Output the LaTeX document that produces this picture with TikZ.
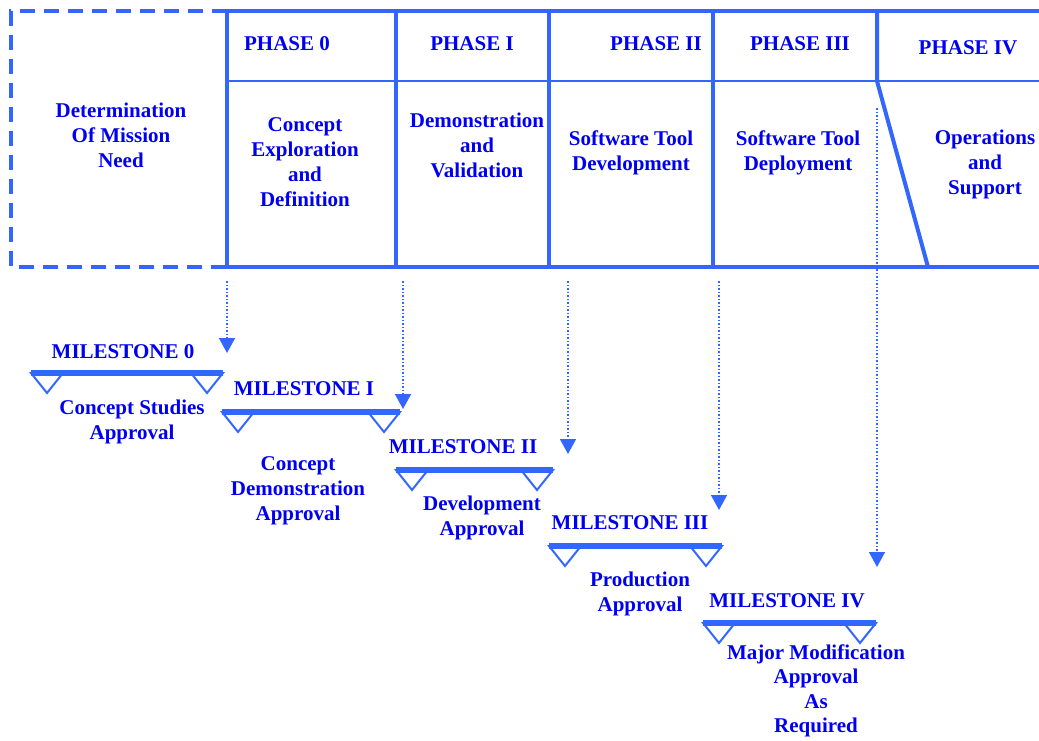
\documentclass[tikz,border=0pt]{standalone}
\usepackage{fontspec}
\setmainfont{Liberation Serif}
\usetikzlibrary{arrows.meta}
\definecolor{ln}{RGB}{51,102,255}
\definecolor{tx}{RGB}{0,0,240}
\newcommand\mstone[4]{% #1 name, #2 left x, #3 right x, #4 y
  \draw[tri] (#2,#4) -- ({#2+16},{#4+20}) -- ({#2+32},#4) -- cycle;
  \draw[tri] ({#3-32},#4) -- ({#3-16},{#4+20}) -- (#3,#4) -- cycle;
  \draw[bar] (#2,#4) -- (#3,#4);
  \coordinate (#1) at ({(#2+#3)/2},#4);
}
\begin{document}
\begin{tikzpicture}[x=1pt,y=-1pt,
  lbl/.style={font=\bfseries\fontsize{21}{25}\selectfont, text=tx, align=center, inner sep=0pt, yshift=-2pt},
  frame/.style={draw=ln, line width=4pt},
  divider/.style={draw=ln, line width=2pt},
  dashframe/.style={draw=ln, line width=4pt, dash pattern=on 15pt off 9pt},
  bar/.style={draw=ln, line width=6pt},
  tri/.style={draw=ln, line width=2pt, fill=white},
  dotarrow/.style={draw=ln, line width=1.5pt, dotted, -{Triangle[width=16pt,length=15pt]}}]
\useasboundingbox (0,0) rectangle (1039,740);

% dashed box
\draw[dashframe] (227,11) -- (11,11) -- (11,267) -- (227,267);
% table frame
\draw[frame] (227,11) -- (1045,11);
\draw[frame] (227,267) -- (1045,267);
\draw[divider] (227,81) -- (1045,81);
\draw[frame] (227,9) -- (227,269);
\draw[frame] (396,9) -- (396,269);
\draw[frame] (549,9) -- (549,269);
\draw[frame] (713,9) -- (713,269);
\draw[frame] (877,9) -- (877,81) -- (928,267);

% texts in table
\node[lbl] (need) at (121,133) {Determination\\Of Mission\\Need};
\node[lbl] (p0) at (287,42) {PHASE 0};
\node[lbl] (p1) at (472,42) {PHASE I};
\node[lbl] (p2) at (656,42) {PHASE II};
\node[lbl] (p3) at (800,42) {PHASE III};
\node[lbl] (p4) at (968,46) {PHASE IV};
\node[lbl] (c0) at (305,160) {Concept\\Exploration\\and\\Definition};
\node[lbl] (c1) at (477,143) {Demonstration\\and\\Validation};
\node[lbl] (c2) at (631,151) {Software Tool\\Development};
\node[lbl] (c3) at (798,151) {Software Tool\\Deployment};
\node[lbl] (c4) at (985,162) {Operations\\and\\Support};

% milestones
\mstone{m0}{31}{223}{373}
\mstone{m1}{222}{400}{412}
\mstone{m2}{396}{553}{470}
\mstone{m3}{549}{722}{546}
\mstone{m4}{703}{876}{623}

\node[lbl] (m0t) at (123,350) {MILESTONE 0};
\node[lbl] (m0b) at (132,420) {Concept Studies\\Approval};
\node[lbl] (m1t) at (304,387) {MILESTONE I};
\node[lbl] (m1b) at (298,489) {Concept\\Demonstration\\Approval};
\node[lbl] (m2t) at (463,445) {MILESTONE II};
\node[lbl] (m2b) at (482,516) {Development\\Approval};
\node[lbl] (m3t) at (630,521) {MILESTONE III};
\node[lbl] (m3b) at (640,592) {Production\\Approval};
\node[lbl] (m4t) at (787,599) {MILESTONE IV};
\node[lbl, font=\bfseries\fontsize{21}{24.5}\selectfont] (m4b) at (816,689) {Major Modification\\Approval\\As\\Required};

% dotted arrows
\coordinate (a0s) at (227,281); \coordinate (a0e) at (227,353);
\coordinate (a1s) at (403,281); \coordinate (a1e) at (403,409);
\coordinate (a2s) at (568,281); \coordinate (a2e) at (568,454);
\coordinate (a3s) at (719,281); \coordinate (a3e) at (719,510);
\coordinate (a4s) at (877,108); \coordinate (a4e) at (877,567);
\draw[dotarrow] (a0s) -- (a0e);
\draw[dotarrow] (a1s) -- (a1e);
\draw[dotarrow] (a2s) -- (a2e);
\draw[dotarrow] (a3s) -- (a3e);
\draw[dotarrow] (a4s) -- (a4e);
\end{tikzpicture}
\end{document}
